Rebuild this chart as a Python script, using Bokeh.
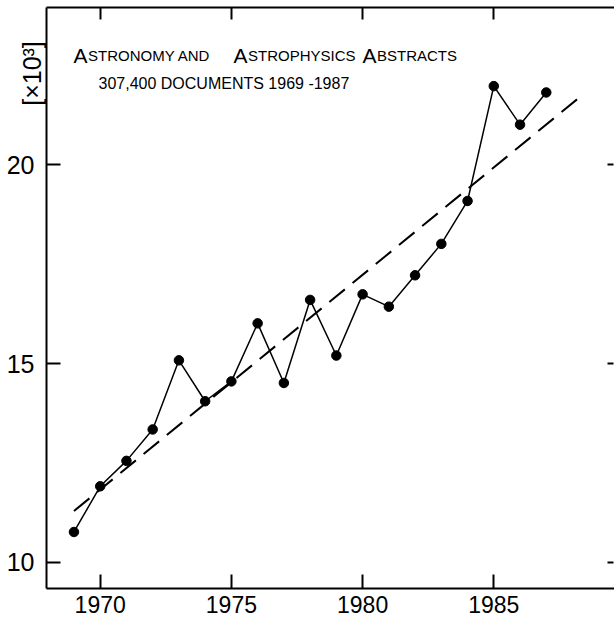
import numpy as np
from bokeh.plotting import figure
from bokeh.models import Range1d, LinearAxis, FixedTicker, Label
from bokeh.embed import file_html
from bokeh.resources import INLINE

# ---- data (thousands of documents per year) ----
years = list(range(1969, 1988))
docs_k = [10.76, 11.91, 12.55, 13.34, 15.08, 14.05, 14.55, 16.01, 14.51, 16.60,
          15.20, 16.74, 16.43, 17.22, 18.01, 19.09, 21.98, 21.01, 21.82]
trend_span = [1969.0, 1988.25]
x_ticks = [1970, 1975, 1980, 1985]
y_ticks = [10, 15, 20]
title_caps = ["A", "A", "A"]
title_small = ["STRONOMY AND", "STROPHYSICS", "BSTRACTS"]
title_line2 = "307,400 DOCUMENTS 1969 -1987"
y_unit_label = "[×10³]"

FONT = "Liberation Sans"


# picture pixel space (top-left origin) -> data space
def X(px):
    return 1970 + (px - 99.7) / 26.24


def Y(py):
    return 10 + (561.7 - py) / 39.74


W, H = 614, 620
p = figure(width=W, height=H,
           x_range=Range1d(X(0), X(W)), y_range=Range1d(Y(H), Y(0)),
           output_backend="svg", toolbar_location=None,
           x_axis_location=None, y_axis_location=None,
           min_border_left=0, min_border_right=0, min_border_top=0, min_border_bottom=0)
p.outline_line_color = None
p.xgrid.visible = False
p.ygrid.visible = False
p.background_fill_color = "white"
p.border_fill_color = "white"

x_left, x_right = X(46), X(613)
y_bottom, y_top = Y(588), Y(7)


def style_axis(ax, tick_in, font_size, standoff, line=True):
    ax.major_tick_in = tick_in
    ax.major_tick_out = 0
    ax.minor_tick_line_color = None
    ax.major_tick_line_width = 2
    ax.major_tick_line_color = "black"
    ax.axis_line_width = 2
    ax.axis_line_color = "black" if line else None
    ax.major_label_text_font = FONT
    ax.major_label_text_font_size = font_size
    ax.major_label_text_color = "black"
    ax.major_label_standoff = standoff


bottom = LinearAxis(ticker=FixedTicker(ticks=x_ticks), fixed_location=y_bottom,
                    bounds=(x_left, X(W)))
style_axis(bottom, 14, "23px", 7)
p.add_layout(bottom, "below")

top = LinearAxis(ticker=FixedTicker(ticks=x_ticks), fixed_location=y_top,
                 bounds=(x_left, X(W)),
                 major_label_overrides={t: "" for t in x_ticks})
style_axis(top, 12, "10px", 0)
p.add_layout(top, "above")

left = LinearAxis(ticker=FixedTicker(ticks=y_ticks), fixed_location=x_left,
                  bounds=(y_bottom, y_top))
style_axis(left, 14, "25px", 12)
p.add_layout(left, "left")

right = LinearAxis(ticker=FixedTicker(ticks=y_ticks), fixed_location=x_right,
                   bounds=(y_bottom, y_top),
                   major_label_overrides={t: "" for t in y_ticks})
style_axis(right, 6, "10px", 0, line=False)
p.add_layout(right, "right")

# ---- data marks ----
coef = np.polyfit(years, docs_k, 1)
trend_y = list(np.polyval(coef, trend_span))
p.line(trend_span, trend_y, line_color="black", line_width=2, line_dash="20 10")
p.line(years, docs_k, line_color="black", line_width=1.5)
p.scatter(years, docs_k, size=9.5, color="black")

# ---- texts ----
cap_px = [73, 233, 362]
for cx, c, s in zip(cap_px, title_caps, title_small):
    p.add_layout(Label(x=X(cx), y=Y(55), text=c, text_font=FONT, text_font_size="21px",
                       text_baseline="alphabetic", text_align="left", text_color="black"))
    p.add_layout(Label(x=X(cx + 14.5), y=Y(55), text=s, text_font=FONT, text_font_size="15px",
                       text_baseline="alphabetic", text_align="left", text_color="black"))

p.add_layout(Label(x=X(98), y=Y(83), text=title_line2, text_font=FONT, text_font_size="16px",
                   text_baseline="alphabetic", text_align="left", text_color="black"))

p.add_layout(Label(x=X(31), y=Y(73), text=y_unit_label, angle=np.pi / 2, text_font=FONT,
                   text_font_size="25px", text_baseline="middle", text_align="center",
                   text_color="black"))

open("out.html", "w").write(file_html(p, INLINE))
